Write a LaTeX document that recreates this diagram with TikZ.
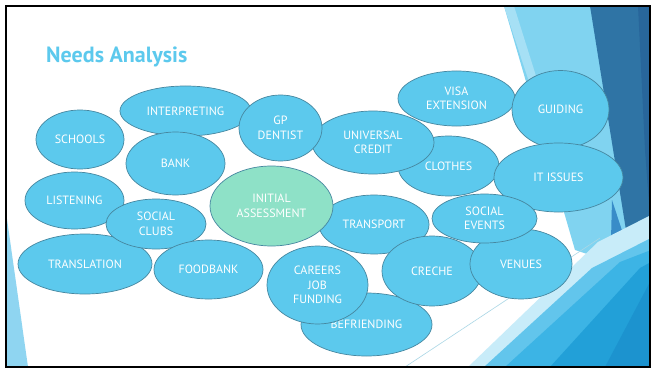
\documentclass[tikz,border=0pt]{standalone}
\usepackage{fontspec}
\setmainfont{PT Sans}
\usetikzlibrary{shapes.geometric}
\definecolor{bub}{RGB}{92,201,237}
\definecolor{bubline}{RGB}{70,135,160}
\definecolor{iagreen}{RGB}{142,225,199}
\definecolor{titleblue}{RGB}{92,201,237}
\definecolor{lightband}{RGB}{128,211,240}
\definecolor{paleband}{RGB}{166,224,245}
\definecolor{darkblue}{RGB}{47,116,165}
\definecolor{darkerblue}{RGB}{40,102,155}
\definecolor{midblue}{RGB}{56,140,200}
\definecolor{pale}{RGB}{200,236,249}
\definecolor{lcyan}{RGB}{98,197,236}
\definecolor{cyanb}{RGB}{60,180,229}
\definecolor{brightb}{RGB}{34,160,216}
\definecolor{deepb}{RGB}{28,147,207}
\definecolor{sliver}{RGB}{143,213,241}
\definecolor{thinline}{RGB}{170,215,230}
\begin{document}
\begin{tikzpicture}[x=1pt,y=-1pt,
  bubble/.style={ellipse, draw=bubline, line width=0.7pt, fill=bub, inner sep=0pt,
    text=white, font=\fontsize{12}{14.5}\selectfont, align=center},
  greenbubble/.style={bubble, fill=iagreen}]
\useasboundingbox (0,0) rectangle (651,369);
\fill[white] (0,0) rectangle (651,369);
\begin{scope}
\clip (6,6) rectangle (650,367);
% top-right bands
\fill[lightband] (504,6) -- (591,6) -- (635,270) -- (575,250) -- cycle;
\fill[paleband] (504,6) -- (514,6) -- (575,200) -- (568,200) -- cycle;
\fill[darkblue] (590,6) -- (651,6) -- (651,265) -- (630,255) -- cycle;
\fill[darkerblue] (638,6) -- (651,6) -- (651,230) -- (645,150) -- cycle;
\fill[midblue] (612,200) -- (630,255) -- (651,265) -- (651,290) -- (610,280) -- cycle;
% bottom-right bands
\fill[pale] (468,367) -- (598,242) -- (651,215) -- (651,367) -- cycle;
\fill[lcyan] (484,367) -- (592,268) -- (651,238) -- (651,367) -- cycle;
\fill[cyanb] (505,367) -- (620,262) -- (651,250) -- (651,367) -- cycle;
\fill[brightb] (550,367) -- (640,268) -- (651,262) -- (651,367) -- cycle;
\fill[deepb] (605,367) -- (651,280) -- (651,367) -- cycle;
\draw[thinline, line width=0.6pt] (405,367) -- (600,238);
% left sliver
\fill[sliver] (6,212) -- (28,367) -- (6,367) -- cycle;
\end{scope}
\draw[black, line width=2pt] (6,6) rectangle (649.5,366.5);
% title
\node[anchor=base west, inner sep=0pt, text=titleblue,
  font=\fontsize{22}{27}\selectfont\bfseries] (title) at (46,63) {Needs Analysis};
% bubbles
\node[bubble, minimum width=88, minimum height=59] (schools) at (80,139.5) {SCHOOLS};
\node[bubble, minimum width=131, minimum height=50] (interp) at (185.5,111) {INTERPRETING};
\node[bubble, minimum width=99, minimum height=63] (bank) at (175.5,163.5) {BANK};
\node[bubble, minimum width=101, minimum height=60] (clothes) at (448.5,166) {CLOTHES};
\node[bubble, minimum width=122, minimum height=63] (uc) at (373,142.5) {UNIVERSAL\\CREDIT};
\node[bubble, minimum width=83, minimum height=66] (gp) at (280.5,128) {GP\\DENTIST};
\node[bubble, minimum width=117, minimum height=55] (visa) at (456.5,98.5) {VISA\\EXTENSION};
\node[bubble, minimum width=97, minimum height=78] (guiding) at (560.5,109.5) {GUIDING};
\node[bubble, minimum width=129, minimum height=69] (itissues) at (558.5,177.5) {IT ISSUES};
\node[bubble, minimum width=110, minimum height=59] (transp) at (374,224.5) {TRANSPORT};
\node[greenbubble, minimum width=123, minimum height=80] (ia) at (271.5,206) {INITIAL\\ASSESSMENT};
\node[bubble, minimum width=99, minimum height=57] (listen) at (74.5,200.5) {LISTENING};
\node[bubble, minimum width=134, minimum height=60] (transl) at (85,264) {TRANSLATION};
\node[bubble, minimum width=100, minimum height=50] (sclubs) at (156,224) {SOCIAL\\CLUBS};
\node[bubble, minimum width=109, minimum height=59] (food) at (208.5,269.5) {FOODBANK};
\node[bubble, minimum width=131, minimum height=63] (befr) at (366.5,324.5) {BEFRIENDING};
\node[bubble, minimum width=101, minimum height=78] (careers) at (317.5,285) {CAREERS\\JOB\\FUNDING};
\node[bubble, minimum width=100, minimum height=70] (creche) at (432,271) {CRECHE};
\node[bubble, minimum width=102, minimum height=70] (venues) at (521,264) {VENUES};
\node[bubble, minimum width=105, minimum height=49] (sevents) at (484.5,218.5) {SOCIAL\\EVENTS};
\end{tikzpicture}
\end{document}
